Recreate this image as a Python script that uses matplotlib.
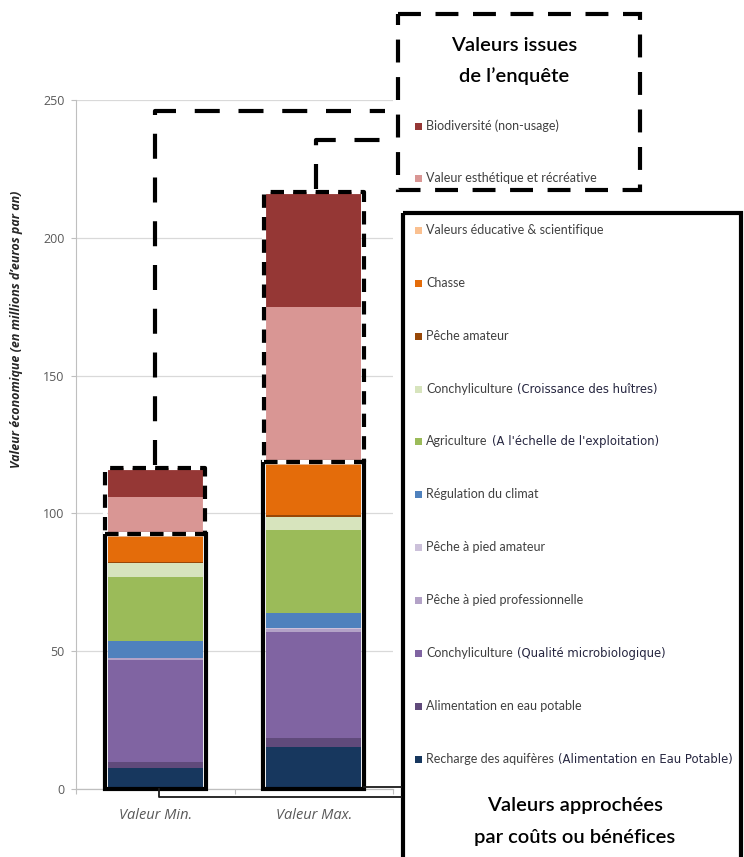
import matplotlib
matplotlib.use('Agg')
import matplotlib.pyplot as plt
import numpy as np
from matplotlib.patches import Rectangle

# ---------------- data ----------------
categories = ['Valeur Min.', 'Valeur Max.']
# values approached by costs / benefits (stacked bottom -> top)
recharge = [7.5, 15.4]
alim_eau = [2.4, 3.2]
conchy_qualite = [36.9, 38.5]
peche_pied_pro = [0.6, 1.1]
peche_pied_amateur = [0.2, 0.3]
regulation_climat = [6.2, 5.5]
agriculture = [23.2, 30.0]
conchy_croissance = [4.9, 4.6]
peche_amateur = [0.5, 0.9]
chasse = [9.1, 18.1]
educative = [1.0, 1.0]
# values from the survey
esthetique = [13.6, 56.4]
biodiversite = [10.3, 41.7]

approx_series = [recharge, alim_eau, conchy_qualite, peche_pied_pro, peche_pied_amateur,
                 regulation_climat, agriculture, conchy_croissance, peche_amateur, chasse, educative]
approx_labels = [("Recharge des aquifères", "(Alimentation en Eau Potable)"),
                 ("Alimentation en eau potable", None),
                 ("Conchyliculture", "(Qualité microbiologique)"),
                 ("Pêche à pied professionnelle", None),
                 ("Pêche à pied amateur", None),
                 ("Régulation du climat", None),
                 ("Agriculture", "(A l'échelle de l'exploitation)"),
                 ("Conchyliculture", "(Croissance des huîtres)"),
                 ("Pêche amateur", None),
                 ("Chasse", None),
                 ("Valeurs éducative & scientifique", None)]
approx_colors = ['#17375E', '#604A7B', '#8064A2', '#B3A2C7', '#CCC1DA',
                 '#4F81BD', '#9BBB59', '#D7E4BD', '#984807', '#E46C0A', '#FAC090']

survey_series = [esthetique, biodiversite]
survey_labels = ["Valeur esthétique et récréative", "Biodiversité (non-usage)"]
survey_colors = ['#D99694', '#953735']

yticks = [0, 50, 100, 150, 200, 250]

# ---------------- figure ----------------
W, H = 744, 857
fig = plt.figure(figsize=(W / 100, H / 100), dpi=100)
ax = fig.add_axes([76 / W, (H - 789) / H, (393 - 76) / W, (789 - 100) / H])

x = np.arange(len(categories))
bw = 0.6
bottom = np.zeros(len(categories))
for vals, col in zip(approx_series, approx_colors):
    ax.bar(x, vals, bw, bottom=bottom, color=col, zorder=2, linewidth=0)
    bottom += np.array(vals)
approx_total = bottom.copy()
for vals, col in zip(survey_series, survey_colors):
    ax.bar(x, vals, bw, bottom=bottom, color=col, zorder=2, linewidth=0)
    bottom += np.array(vals)
grand_total = bottom.copy()

ax.set_xlim(-0.5, 1.5)
ax.set_ylim(0, 250)
ax.set_yticks(yticks)
ax.set_xticks(x)
ax.set_xticklabels(categories, fontsize=10.5, style='italic', color='#595959', family='Open Sans')
ax.set_xticks([-0.5, 0.5, 1.5], minor=True)
ax.tick_params(axis='x', which='major', length=0, pad=14)
ax.tick_params(axis='x', which='minor', length=3.6, color='#bfbfbf', width=0.8)
ax.tick_params(axis='y', length=3.6, color='#bfbfbf', width=0.8, pad=4.5,
               labelsize=9, labelcolor='#595959')
for lab in ax.get_yticklabels():
    lab.set_family('Open Sans')
ax.yaxis.grid(True, color='#d9d9d9', linewidth=0.9, zorder=0)
ax.set_axisbelow(True)
for s in ['top', 'right']:
    ax.spines[s].set_visible(False)
ax.spines['left'].set_color('#bfbfbf')
ax.spines['bottom'].set_color('#bfbfbf')
ax.spines['left'].set_linewidth(0.8)
ax.spines['bottom'].set_linewidth(0.9)

# borders around the two groups of values
for i in x:
    ax.add_patch(Rectangle((i - 0.32, 0), 0.64, approx_total[i], fill=False,
                           edgecolor='black', linewidth=3, zorder=5, clip_on=False))
    xl, xr = i - 0.315, i + 0.315
    yb, yt = approx_total[i], grand_total[i]
    ax.plot([xl, xr, xr, xl, xl], [yb, yb, yt, yt, yb], color='black', lw=3,
            linestyle=(0, (3.2, 2.2)), gapcolor='white', zorder=6, clip_on=False,
            solid_capstyle='butt', dash_capstyle='butt')

fig.text(17 / W, 1 - 329 / H, "Valeur économique (en millions d’euros par an)", rotation=90,
         ha='center', va='center', fontsize=9, style='italic', weight='bold',
         color='#262626', family='Open Sans')

# ---------------- overlay in pixel coordinates ----------------
ov = fig.add_axes([0, 0, 1, 1], zorder=10)
ov.set_xlim(0, W)
ov.set_ylim(H, 0)
ov.axis('off')
ov.patch.set_alpha(0)


def to_px(xd, yd):
    dx, dy = ax.transData.transform((xd, yd))
    return dx, H - dy


# dashed connectors from survey boxes to survey legend
cx0, ty0 = to_px(0, grand_total[0])
cx1, ty1 = to_px(1, grand_total[1])
dash_conn = (0, (6, 4.5))
ov.plot([cx0, cx0, 385], [ty0 - 3, 111, 111], color='black', lw=3, linestyle=dash_conn)
ov.plot([cx1 + 2, cx1 + 2, 390], [ty1 - 3, 140, 140], color='black', lw=3, linestyle=dash_conn)

# solid connector from approach bars to approach legend
bx0, by0 = to_px(0, 0)
bxr, _ = to_px(1 + 0.32, 0)
ov.plot([bx0 + 4, bx0 + 4, 401], [by0, 797, 797], color='#1a1a1a', lw=1.3)
ov.plot([bxr, 401], [787, 787], color='#1a1a1a', lw=1.3)

# survey legend box (dashed)
ov.add_patch(Rectangle((398, 14), 242, 176, fill=False, edgecolor='black', lw=3,
                       linestyle=(0, (5.5, 3.5))))
title_kw = dict(ha='center', va='center', fontsize=14.5, weight='semibold', color='black', family='Lato')
ov.text(514, 45, "Valeurs issues", **title_kw)
ov.text(514, 76, "de l’enquête", **title_kw)

entry_kw = dict(ha='left', va='center', fontsize=9, color='#404040', family='Lato')
paren_kw = dict(ha='left', va='center', fontsize=8.4, color='#262640', family='DejaVu Sans')
sq = 7


def legend_entry(y, label, paren, color):
    ov.add_patch(Rectangle((415, y - sq / 2), sq, sq, facecolor=color, edgecolor='none'))
    t = ov.text(426, y, label, **entry_kw)
    if paren:
        ov.annotate(paren, xy=(1, 0.5), xycoords=t, xytext=(3, 0),
                    textcoords='offset points', **paren_kw)


survey_y = [178, 126]
for y, lab, col in zip(survey_y, survey_labels, survey_colors):
    legend_entry(y, lab, None, col)

# approach legend box (solid)
ov.add_patch(Rectangle((403, 213), 338, 660, fill=False, edgecolor='black', lw=3, clip_on=False))
approx_y = [759, 706, 653, 600, 547, 494, 441, 389, 336, 283, 230]
for y, (lab, paren), col in zip(approx_y, approx_labels, approx_colors):
    legend_entry(y, lab, paren, col)
ov.text(575, 806, "Valeurs approchées", **title_kw)
ov.text(575, 838, "par coûts ou bénéfices", **title_kw)

fig.savefig('out.png', dpi=100)
